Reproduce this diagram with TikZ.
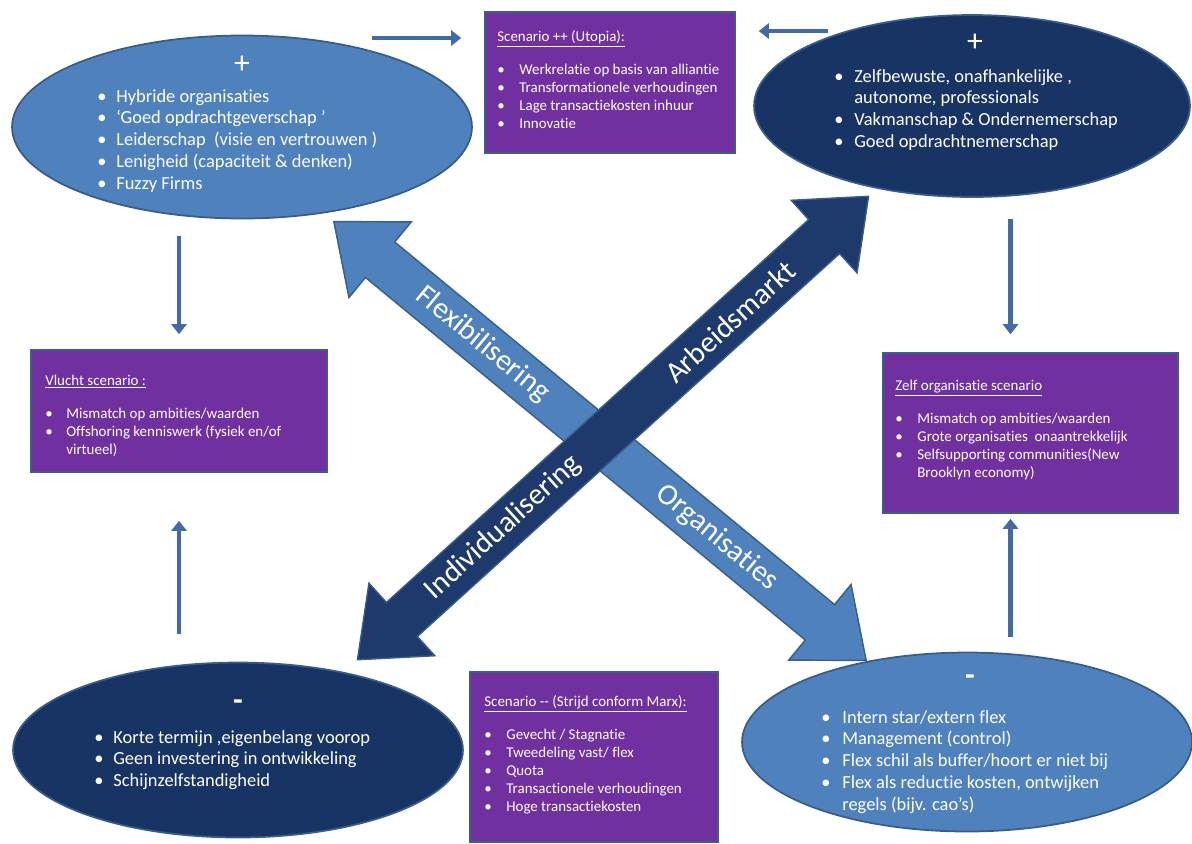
\documentclass[tikz,border=0pt]{standalone}
\usepackage{fontspec}
\setmainfont{Carlito}[Ligatures={NoCommon}]
\usetikzlibrary{arrows.meta,positioning,shapes.geometric}

\definecolor{lightblue}{RGB}{79,129,189}
\definecolor{edgeblue}{RGB}{56,93,138}
\definecolor{navy}{RGB}{24,52,100}
\definecolor{darkarrow}{RGB}{30,58,108}
\definecolor{purplebox}{RGB}{112,48,160}
\definecolor{boxedge}{RGB}{62,92,138}
\definecolor{flowblue}{RGB}{66,106,166}

\tikzset{
  blob/.style={ellipse, draw=edgeblue, line width=1pt, inner sep=0pt},
  scenbox/.style={rectangle, draw=boxedge, line width=0.9pt, fill=purplebox, inner sep=0pt},
  bigtxt/.style={inner sep=0pt, anchor=base west, text=white, font=\fontsize{10.5}{12.4}\selectfont},
  smalltxt/.style={inner sep=0pt, anchor=base west, text=white, font=\fontsize{8.5}{10.2}\selectfont},
  sign/.style={inner sep=0pt, text=white, font=\fontsize{18}{18}\selectfont},
  flow/.style={draw=flowblue, line width=2.4pt, -{Triangle[length=0.2cm,width=0.3cm]}},
  axis/.style={draw=edgeblue, line width=0.8pt},
  axislbl/.style={inner sep=0pt, text=white, font=\fontsize{17}{17}\selectfont}
}

\begin{document}
\begin{tikzpicture}[x=0.02cm, y=-0.02cm]
  \useasboundingbox (0,0) rectangle (1192,843);

  % the two crossing arrows
  \begin{scope}[shift={(600,441)}, rotate=-39.5]
    \draw[axis, fill=lightblue] (-345,0) -- (-285,49) -- (-285,23) -- (285,23) -- (285,49) -- (345,0)
      -- (285,-49) -- (285,-23) -- (-285,-23) -- (-285,-49) -- cycle;
    \node[axislbl, rotate=-39.5] (flexlbl) at (-152,0) {Flexibilisering};
    \node[axislbl, rotate=-39.5] (orglbl) at (152,0) {Organisaties};
  \end{scope}
  \begin{scope}[shift={(613,428)}, rotate=42.2]
    \draw[axis, fill=darkarrow] (-345,0) -- (-285,49) -- (-285,23) -- (285,23) -- (285,49) -- (345,0)
      -- (285,-49) -- (285,-23) -- (-285,-23) -- (-285,-49) -- cycle;
    \node[axislbl, rotate=42.2] (arblbl) at (158,0) {Arbeidsmarkt};
    \node[axislbl, rotate=42.2] (indlbl) at (-148,0) {Individualisering};
  \end{scope}

  % plus side
  \node[blob, fill=lightblue, minimum width=9.2cm, minimum height=3.66cm] (plusorg) at (242,127) {};
  \node[sign] (plusorgsign) at (242,65) {+};
  \node[bigtxt] (plusorgtxt) at (97,102) {\begin{tabular}[t]{@{}p{0.38cm}@{}l@{}}
    \textbullet & Hybride organisaties\\
    \textbullet & ‘Goed opdrachtgeverschap\ ’\\
    \textbullet & Leiderschap\ \ (visie en vertrouwen\ )\\
    \textbullet & Lenigheid (capaciteit \& denken)\\
    \textbullet & Fuzzy Firms
  \end{tabular}};

  \node[blob, fill=navy, minimum width=8.72cm, minimum height=3.64cm] (profs) at (972,106) {};
  \node[sign] (profssign) at (975,43) {+};
  \node[bigtxt] (profstxt) at (834,82) {\begin{tabular}[t]{@{}p{0.4cm}@{}l@{}}
    \textbullet & Zelfbewuste, onafhankelijke ,\\
                & autonome, professionals\\
    \textbullet & Vakmanschap \& Ondernemerschap\\
    \textbullet & Goed opdrachtnemerschap
  \end{tabular}};

  % scenarios
  \node[scenbox, minimum width=5cm, minimum height=2.82cm] (utopia) at (610,82.5) {};
  \node[smalltxt] (utopiatxt) at (497,41) {\begin{tabular}[t]{@{}p{0.44cm}@{}l@{}}
    \multicolumn{2}{@{}l@{}}{\underline{Scenario ++ (Utopia):}}\\[9pt]
    \textbullet & Werkrelatie op basis van alliantie\\
    \textbullet & Transformationele verhoudingen\\
    \textbullet & Lage transactiekosten inhuur\\
    \textbullet & Innovatie
  \end{tabular}};

  \node[scenbox, minimum width=5.92cm, minimum height=2.44cm] (vlucht) at (179,411) {};
  \node[smalltxt] (vluchttxt) at (45,385) {\begin{tabular}[t]{@{}p{0.42cm}@{}l@{}}
    \multicolumn{2}{@{}l@{}}{\underline{Vlucht scenario :}}\\[9pt]
    \textbullet & Mismatch op ambities/waarden\\
    \textbullet & Offshoring kenniswerk (fysiek en/of\\
                & virtueel)
  \end{tabular}};

  \node[scenbox, minimum width=5.9cm, minimum height=3.2cm] (zelf) at (1030.5,433) {};
  \node[smalltxt] (zelftxt) at (895,390) {\begin{tabular}[t]{@{}p{0.44cm}@{}l@{}}
    \multicolumn{2}{@{}l@{}}{\underline{Zelf organisatie scenario}}\\[9pt]
    \textbullet & Mismatch op ambities/waarden\\
    \textbullet & Grote organisaties\ \ onaantrekkelijk\\
    \textbullet & Selfsupporting communities(New\\
                & Brooklyn economy)
  \end{tabular}};

  \node[scenbox, minimum width=4.96cm, minimum height=3.4cm] (marx) at (594,757) {};
  \node[smalltxt] (marxtxt) at (484,706) {\begin{tabular}[t]{@{}p{0.44cm}@{}l@{}}
    \multicolumn{2}{@{}l@{}}{\underline{Scenario -{}- (Strijd conform Marx):}}\\[9pt]
    \textbullet & Gevecht / Stagnatie\\
    \textbullet & Tweedeling vast/ flex\\
    \textbullet & Quota\\
    \textbullet & Transactionele verhoudingen\\
    \textbullet & Hoge transactiekosten
  \end{tabular}};

  % minus side
  \node[blob, fill=navy, minimum width=9cm, minimum height=3.5cm] (minkort) at (238,750) {};
  \node[sign, font=\fontsize{18}{18}\selectfont\bfseries] (minkortsign) at (238,705) {-};
  \node[bigtxt] (minkorttxt) at (94,743) {\begin{tabular}[t]{@{}p{0.38cm}@{}l@{}}
    \textbullet & Korte termijn ,eigenbelang voorop\\
    \textbullet & Geen investering in ontwikkeling\\
    \textbullet & Schijnzelfstandigheid
  \end{tabular}};

  \node[blob, fill=lightblue, minimum width=9cm, minimum height=3.58cm] (flex) at (967,742) {};
  \node[sign, font=\fontsize{18}{18}\selectfont\bfseries] (flexsign) at (970,680) {-};
  \node[bigtxt] (flextxt) at (821,723) {\begin{tabular}[t]{@{}p{0.42cm}@{}l@{}}
    \textbullet & Intern star/extern flex\\
    \textbullet & Management (control)\\
    \textbullet & Flex schil als buffer/hoort er niet bij\\
    \textbullet & Flex als reductie kosten, ontwijken\\
                & regels (bijv. cao’s)
  \end{tabular}};

  % small arrows
  \coordinate (topl) at (372,38);
  \coordinate (topr) at (828,31);
  \draw[flow, shorten >=0.46cm] (topl) -- (topl -| utopia.west);
  \draw[flow, shorten >=0.46cm] (topr) -- (topr -| utopia.east);
  \draw[flow, shorten <=0.33cm, shorten >=0.3cm] (plusorg.south -| vlucht.north) -- (vlucht.north);
  \draw[flow, shorten <=0.55cm, shorten >=0.96cm] (minkort.north -| vlucht.south) -- (vlucht.south);
  \draw[flow, shorten <=0.42cm, shorten >=0.36cm] ([xshift=-0.4cm]zelf.north |- profs.south) -- ([xshift=-0.4cm]zelf.north);
  \draw[flow, shorten <=0.3cm, shorten >=0.1cm] ([xshift=-0.4cm]zelf.south |- flex.north) -- ([xshift=-0.4cm]zelf.south);
\end{tikzpicture}
\end{document}
